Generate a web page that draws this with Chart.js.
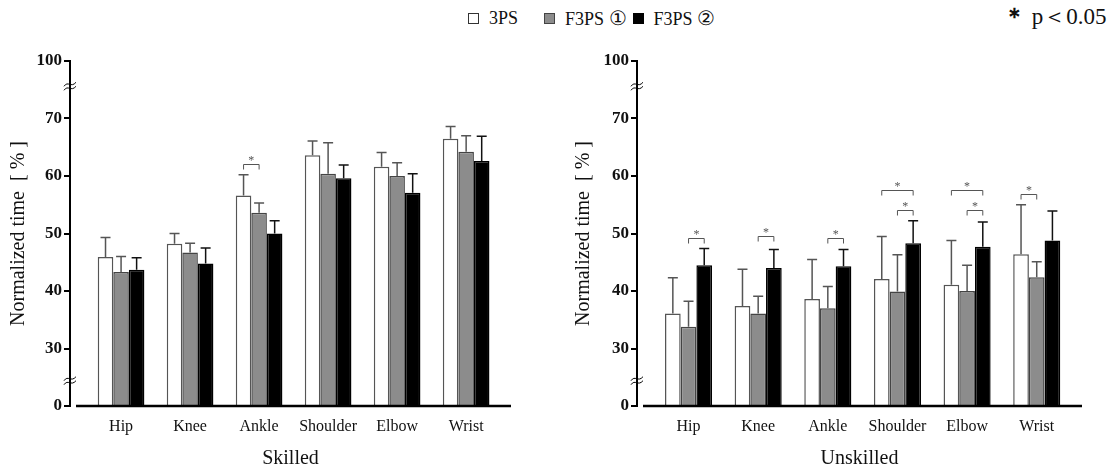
<!DOCTYPE html>
<html><head><meta charset="utf-8">
<script src="https://cdn.jsdelivr.net/npm/chart.js@4/dist/chart.umd.min.js"></script>
<style>
html,body{margin:0;padding:0;background:#fff;}
body{width:1118px;height:469px;position:relative;overflow:hidden;font-family:'Liberation Serif',serif;color:#111;}
.box{position:absolute;top:0;height:471px;}
.legend{position:absolute;left:468px;top:7px;height:22px;display:flex;align-items:center;font-size:18px;line-height:22px;white-space:nowrap;}
.sw{display:inline-block;width:11px;height:11px;box-sizing:border-box;margin-right:10px;}
.cd{font-size:20px;}
.sig{position:absolute;left:1003px;top:4px;font-size:23px;line-height:26px;white-space:nowrap;}
</style></head><body>
<div class="legend">
  <span class="sw" style="background:#fff;border:1px solid #333"></span><span style="margin-right:26px">3PS</span>
  <span class="sw" style="background:#8c8c8c;border:1px solid #444"></span><span style="margin-right:6px">F3PS <span class="cd">①</span></span>
  <span class="sw" style="background:#000;border:1px solid #000"></span><span>F3PS <span class="cd">②</span></span>
</div>
<div class="sig"><span style="font-weight:bold">＊</span> p＜0.05</div>
<div class="box" style="left:0;width:520px"><canvas id="cv1"></canvas></div>
<div class="box" style="left:567px;width:551px"><canvas id="cv2"></canvas></div>
<script>
const categories = ['Hip','Knee','Ankle','Shoulder','Elbow','Wrist'];
const seriesNames = ['3PS','F3PS ①','F3PS ②'];
const yTickLabels = {20:'0',30:'30',40:'40',50:'50',60:'60',70:'70',80:'100'};

// Skilled: means and SD (upper error)
const skilled3PS     = [45.9,48.2,56.6,63.6,61.6,66.5];
const skilled3PSsd   = [3.4,1.8,3.6,2.5,2.5,2.1];
const skilledF1      = [43.3,46.7,53.6,60.4,60.0,64.2];
const skilledF1sd    = [2.7,1.6,1.7,5.4,2.3,2.8];
const skilledF2      = [43.7,44.8,50.0,59.6,57.1,62.6];
const skilledF2sd    = [2.1,2.7,2.2,2.3,3.3,4.3];
// Unskilled
const unskilled3PS   = [36.1,37.4,38.6,42.1,41.1,46.4];
const unskilled3PSsd = [6.2,6.4,6.9,7.4,7.7,8.6];
const unskilledF1    = [33.8,36.1,37.0,39.9,40.0,42.4];
const unskilledF1sd  = [4.4,3.0,3.8,6.4,4.5,2.7];
const unskilledF2    = [44.5,44.0,44.3,48.3,47.7,48.8];
const unskilledF2sd  = [2.9,3.2,2.9,3.9,4.3,5.1];
// significance brackets: category, series a, series b, level
const skilledSig = [{cat:2,a:0,b:1,y:62.1}];
const unskilledSig = [
  {cat:0,a:1,b:2,y:49.3},{cat:1,a:1,b:2,y:49.5},{cat:2,a:1,b:2,y:49.2},
  {cat:3,a:0,b:2,y:57.6},{cat:3,a:1,b:2,y:54.1},
  {cat:4,a:0,b:2,y:57.6},{cat:4,a:1,b:2,y:54.1},
  {cat:5,a:0,b:1,y:56.8}];

const FONT = "'Liberation Serif', serif";
const fills = ['#ffffff','#8c8c8c','#000000'];
const borders = ['#555555','#444444','#000000'];
const errColors = ['#555555','#555555','#111111'];

const extras = {
  id:'extras',
  afterDatasetsDraw(chart, args, o){
    const ctx = chart.ctx, ys = chart.scales.y, area = chart.chartArea;
    ctx.save();
    o.sd.forEach((sdArr,d)=>{
      const meta = chart.getDatasetMeta(d);
      meta.data.forEach((bar,i)=>{
        const v = chart.data.datasets[d].data[i].y;
        const yb = ys.getPixelForValue(v), yt = ys.getPixelForValue(v+sdArr[i]);
        ctx.strokeStyle = errColors[d]; ctx.lineWidth = 1.5;
        ctx.beginPath();
        ctx.moveTo(bar.x, yb); ctx.lineTo(bar.x, yt);
        ctx.moveTo(bar.x-5, yt); ctx.lineTo(bar.x+5, yt);
        ctx.stroke();
      });
    });
    o.sig.forEach(s=>{
      const xa = chart.getDatasetMeta(s.a).data[s.cat].x;
      const xb = chart.getDatasetMeta(s.b).data[s.cat].x;
      const y = Math.round(ys.getPixelForValue(s.y))+0.5;
      ctx.strokeStyle='#555'; ctx.lineWidth=1;
      ctx.beginPath();
      ctx.moveTo(xa,y+5); ctx.lineTo(xa,y); ctx.lineTo(xb,y); ctx.lineTo(xb,y+5);
      ctx.stroke();
      ctx.fillStyle='#555'; ctx.font="12px "+FONT; ctx.textAlign='center'; ctx.textBaseline='alphabetic';
      ctx.fillText('*',(xa+xb)/2,y-1);
    });
    // baseline
    ctx.strokeStyle='#000'; ctx.lineWidth=2.5;
    ctx.beginPath(); ctx.moveTo(area.left+6, area.bottom); ctx.lineTo(area.right, area.bottom); ctx.stroke();
    // axis break marks
    const x = area.left;
    [75.6,24.4].forEach(val=>{
      const y = ys.getPixelForValue(val);
      ctx.strokeStyle='#000'; ctx.lineWidth=1;
      [-2,2].forEach(k=>{
        ctx.beginPath();
        ctx.moveTo(x-6, y+k+2);
        ctx.bezierCurveTo(x-2, y+k-4, x+1, y+k+4, x+6, y+k-2);
        ctx.stroke();
      });
    });
    ctx.restore();
  }
};

function makeChart(id, title, means, sds, sig, padRight, titlePad){
  const datasets = means.map((m,d)=>({
    label: seriesNames[d],
    data: m.map((v,i)=>({x:i,y:v})),
    backgroundColor: fills[d],
    borderColor: borders[d],
    borderWidth: 1.5,
    base: 20,
    categoryPercentage: 0.676,
    barPercentage: 1.0
  }));
  return new Chart(document.getElementById(id), {
    type:'bar',
    data:{datasets},
    plugins:[extras],
    options:{
      responsive:true, maintainAspectRatio:false, animation:false,
      layout:{padding:{top:61,left:0,right:padRight,bottom:0}},
      plugins:{legend:{display:false}, tooltip:{enabled:false},
        extras:{sd:sds, sig:sig}},
      scales:{
        x:{type:'linear', min:-0.74, max:5.65, offset:false,
          afterBuildTicks:s=>{ s.ticks = categories.map((c,i)=>({value:i})); },
          afterFit:s=>{ s.height = 65; },
          grid:{display:false, drawTicks:false},
          border:{display:false},
          ticks:{autoSkip:false, maxRotation:0, padding:11, color:'#111',
            font:{family:FONT,size:16},
            callback:(v)=>categories[Math.round(v)]},
          title:{display:true, text:title, color:'#111', font:{family:FONT,size:20}, padding:{top:0,bottom:0}}
        },
        y:{type:'linear', min:20, max:80,
          afterBuildTicks:s=>{ s.ticks = Object.keys(yTickLabels).map(k=>({value:+k})); },
          afterFit:s=>{ s.width = 70; },
          grid:{display:true, drawOnChartArea:false, drawTicks:true, tickLength:6, color:'#000', lineWidth:2},
          border:{display:true, color:'#000', width:2},
          ticks:{padding:2, color:'#111', font:{family:FONT,size:17,weight:'bold'},
            callback:(v)=>yTickLabels[v]},
          title:{display:true, text:'Normalized time  [ % ]', color:'#111',
            font:{family:FONT,size:20}, padding:{top:titlePad,bottom:0}}
        }
      }
    }
  });
}

makeChart('cv1','Skilled',[skilled3PS,skilledF1,skilledF2],[skilled3PSsd,skilledF1sd,skilledF2sd],skilledSig,9,7);
makeChart('cv2','Unskilled',[unskilled3PS,unskilledF1,unskilledF2],[unskilled3PSsd,unskilledF1sd,unskilledF2sd],unskilledSig,36,5);
</script>
</body></html>
